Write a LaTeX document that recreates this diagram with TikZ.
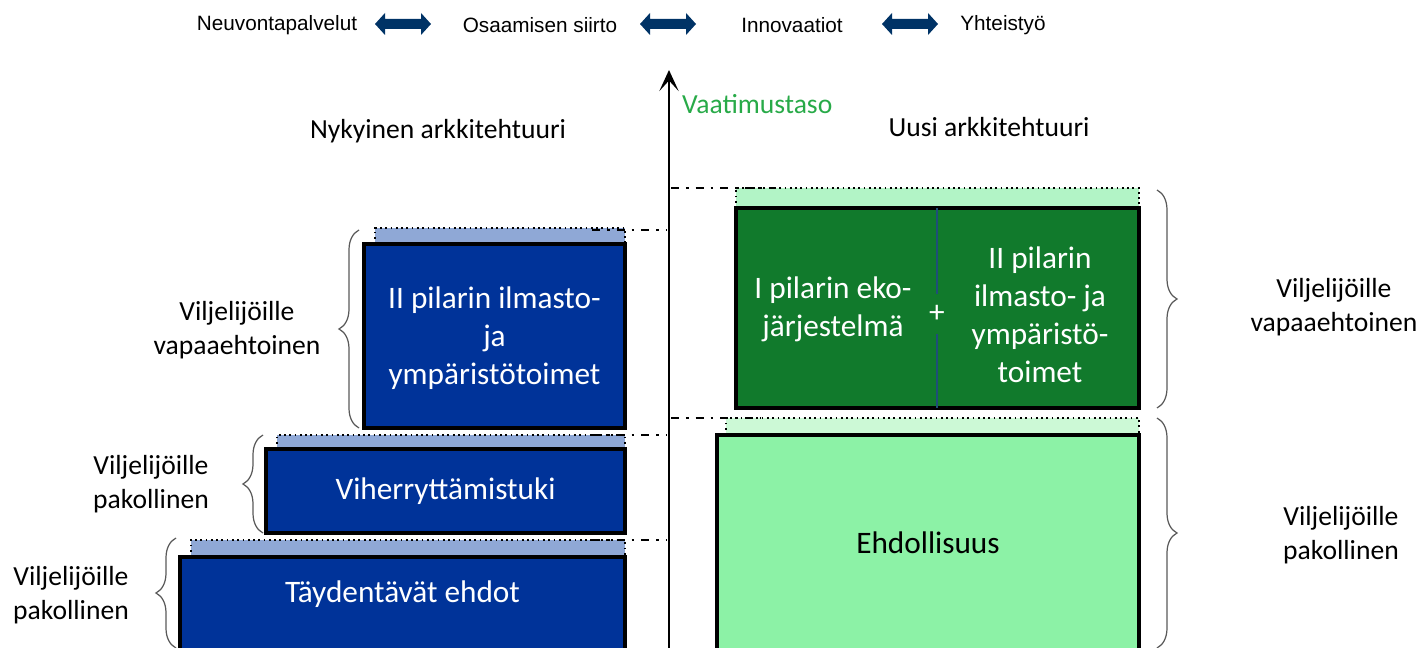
\documentclass[tikz,border=0pt]{standalone}
\usepackage{fontspec}
\setmainfont{Carlito}
\newfontfamily\arialfont{Liberation Sans}
\usepackage{tikz}
\usetikzlibrary{calc}
\usetikzlibrary{positioning}
\usetikzlibrary{arrows.meta}
\usetikzlibrary{decorations.pathreplacing}

\definecolor{pilarblue}{RGB}{0,51,153}
\definecolor{stripblue}{RGB}{143,168,214}
\definecolor{ekogreen}{RGB}{17,122,44}
\definecolor{stripgreen}{RGB}{178,244,198}
\definecolor{ehtogreen}{RGB}{140,242,166}
\definecolor{stripmint}{RGB}{204,249,214}
\definecolor{navy}{RGB}{0,51,102}
\definecolor{tasogreen}{RGB}{40,170,72}
\definecolor{divblue}{RGB}{31,78,121}

\begin{document}
\begin{tikzpicture}[x=0.02cm,y=-0.02cm,
		boxtext/.style={text=white,align=center,font=\fontsize{17.8}{21.6}\selectfont},
		sidetext/.style={align=center,font=\fontsize{15.7}{19.6}\selectfont},
		toptext/.style={font=\arialfont\fontsize{11.8}{14}\selectfont},
		dblarrow/.pic={\fill[navy] (-28,0) -- (-18,-11) -- (-18,-5) -- (18,-5) -- (18,-11) -- (28,0) -- (18,11) -- (18,5) -- (-18,5) -- (-18,11) -- cycle;},
		stripbox/.style={draw=black,line width=1pt,dotted},
		levelline/.style={line width=1.1pt,dash pattern=on 4.5pt off 4pt on 1.5pt off 4pt},
		bracket/.style={draw=gray!70!black,line width=0.7pt,decorate,decoration={brace,amplitude=0.4cm}},
		pillar/.style={draw=black,line width=2.3pt}]
		\useasboundingbox (0,0) rectangle (1421,648);
		\clip (0,0) rectangle (1421,648);
		% top row
		\node[toptext] (neuv) at (277,25) {Neuvontapalvelut};
		\pic (ar1) at (403,24) {dblarrow};
		\node[toptext] (osaa) at (540,25) {Osaamisen siirto};
		\pic (ar2) at (668,24) {dblarrow};
		\node[toptext] (inno) at (792,25) {Innovaatiot};
		\pic (ar3) at (910,24) {dblarrow};
		\node[toptext] (yhte) at (1003,25) {Yhteistyö};
		% axis
		\coordinate (ax0) at (669,660);
		\coordinate (ax1) at (669,70);
		\draw[line width=1.7pt,-{Stealth[length=12pt,width=11pt,inset=6pt]}] (ax0) -- (ax1);
		\node[sidetext,text=tasogreen,anchor=west] (taso) at (676,104) {Vaatimustaso};
		\node[sidetext] (nyky) at (438,131) {Nykyinen arkkitehtuuri};
		\node[sidetext] (uusi) at (989,127) {Uusi arkkitehtuuri};
		% current architecture
		\draw[stripbox,fill=stripblue] (375,244) -- (375,228) -- (625,228) -- (625,244);
		\draw[pillar,fill=pilarblue] (364,244) rectangle (625,428);
		\node[boxtext] (ilma) at (494.5,338) {II pilarin ilmasto-\\ja\\ympäristötoimet};
		\draw[stripbox,fill=stripblue] (277,449) -- (277,435) -- (625,435) -- (625,449);
		\draw[pillar,fill=pilarblue] (266,449) rectangle (625,533);
		\node[boxtext] (viher) at (445.5,491) {Viherryttämistuki};
		\draw[stripbox,fill=stripblue] (191,557) -- (191,540) -- (625,540) -- (625,557);
		\draw[pillar,fill=pilarblue] (180,557) rectangle (625,670);
		\node[boxtext] (tayd) at (402.5,594) {Täydentävät ehdot};
		\coordinate (l1a) at (592,230);
		\coordinate (l1b) at (667,230);
		\coordinate (l2a) at (592,435);
		\coordinate (l2b) at (667,435);
		\coordinate (l3a) at (592,540);
		\coordinate (l3b) at (667,540);
		\draw[levelline] (l1a) -- (l1b);
		\draw[levelline] (l2a) -- (l2b);
		\draw[levelline] (l3a) -- (l3b);
		\draw[bracket] (359,428) -- (359,230);
		\draw[bracket] (263,533) -- (263,435);
		\draw[bracket] (176,648) -- (176,538);
		\node[sidetext] (vap1) at (237,330) {Viljelijöille\\vapaaehtoinen};
		\node[sidetext] (pak1) at (151,484) {Viljelijöille\\pakollinen};
		\node[sidetext] (pak2) at (71,595) {Viljelijöille\\pakollinen};
		% new architecture
		\draw[stripbox,fill=stripgreen] (736,208) -- (736,188) -- (1139,188) -- (1139,208);
		\draw[pillar,fill=ekogreen] (736,208) rectangle (1139,408);
		\draw[divblue,line width=0.6pt] (937,208) -- (937,408);
		\node[boxtext] (eko) at (833,309) {I pilarin eko-\\järjestelmä};
		\node[boxtext,fill=ekogreen,inner sep=2pt,minimum height=0.8cm] (plus) at (937,314) {+};
		\node[boxtext] (ympa) at (1040,315) {II pilarin\\ilmasto- ja\\ympäristö-\\toimet};
		\draw[stripbox,fill=stripmint] (726,435) -- (726,418) -- (1139,418) -- (1139,435);
		\draw[pillar,fill=ehtogreen] (717,435) rectangle (1139,670);
		\node[boxtext,text=black] (ehdo) at (928,543) {Ehdollisuus};
		\coordinate (r1a) at (671,188);
		\coordinate (r1b) at (775,188);
		\coordinate (r2a) at (671,418);
		\coordinate (r2b) at (760,418);
		\draw[levelline] (r1a) -- (r1b);
		\draw[levelline] (r2a) -- (r2b);
		\draw[bracket] (1157,190) -- (1157,408);
		\draw[bracket] (1157,418) -- (1157,648);
		\node[sidetext] (vap2) at (1334,307) {Viljelijöille\\vapaaehtoinen};
		\node[sidetext] (pak3) at (1341,535) {Viljelijöille\\pakollinen};
	\end{tikzpicture}
\end{document}
